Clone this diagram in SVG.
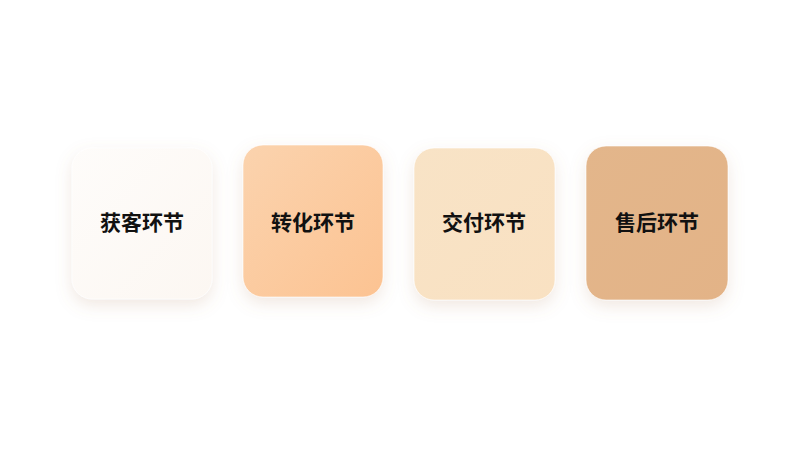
<svg xmlns="http://www.w3.org/2000/svg" width="800" height="450" viewBox="0 0 800 450">
<defs>
<filter id="sh" x="-30%" y="-30%" width="160%" height="160%">
<feDropShadow dx="0" dy="6" stdDeviation="8" flood-color="#b08060" flood-opacity="0.18"/>
</filter>
<linearGradient id="g1" x1="0" y1="0" x2="1" y2="1"><stop offset="0" stop-color="#fefcfa"/><stop offset="1" stop-color="#fcf7f2"/></linearGradient>
<linearGradient id="g2" x1="0" y1="0" x2="1" y2="1"><stop offset="0" stop-color="#fbd3ae"/><stop offset="1" stop-color="#fcc392"/></linearGradient>
<linearGradient id="g3" x1="0" y1="0" x2="1" y2="1"><stop offset="0" stop-color="#f8e3c6"/><stop offset="1" stop-color="#f9e1c2"/></linearGradient>
<linearGradient id="g4" x1="0" y1="0" x2="1" y2="1"><stop offset="0" stop-color="#e3b68b"/><stop offset="1" stop-color="#e3b387"/></linearGradient>
</defs>
<style>
.box{filter:url(#sh);stroke:#ffffff;stroke-opacity:0.6;stroke-width:1}
.lbl{font-family:"Noto Sans CJK SC","Noto Sans",sans-serif;font-size:21px;font-weight:bold;fill:#111111;text-anchor:middle;dominant-baseline:central}
</style>
<rect width="800" height="450" fill="#ffffff"/>
<g id="connectors"></g>
<g id="node1"><rect class="box" x="72" y="148" width="140" height="151" rx="20" fill="url(#g1)"/><text class="lbl" x="142" y="221">获客环节</text></g>
<g id="node2"><rect class="box" x="243" y="145" width="140" height="152" rx="20" fill="url(#g2)"/><text class="lbl" x="313" y="221">转化环节</text></g>
<g id="node3"><rect class="box" x="414" y="148" width="141" height="152" rx="20" fill="url(#g3)"/><text class="lbl" x="484" y="221">交付环节</text></g>
<g id="node4"><rect class="box" x="586" y="146" width="142" height="154" rx="20" fill="url(#g4)"/><text class="lbl" x="657" y="221">售后环节</text></g>
</svg>
